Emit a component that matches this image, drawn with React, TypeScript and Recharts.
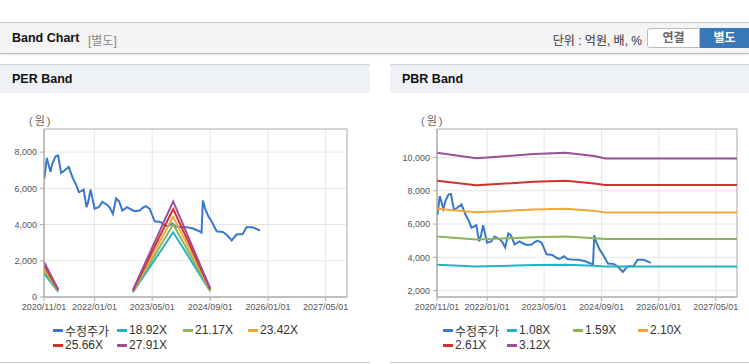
import React from "react";
import { LineChart, Line, XAxis, YAxis, CartesianGrid, ReferenceArea } from "recharts";

const FONT = '"Liberation Sans", Arial, "Noto Sans CJK KR", sans-serif';

// x axis
const xTickLabels = ["2020/11/01", "2022/01/01", "2023/05/01", "2024/09/01", "2026/01/01", "2027/05/01"];
const xStart = "2020-11-01";
const xEnd = "2027-10-28";

// 수정주가 (shared by both charts)
const priceDates = [
  "2020-11-04", "2020-11-25", "2020-12-25", "2021-01-10", "2021-02-06", "2021-02-28", "2021-03-25", "2021-04-22",
  "2021-05-28", "2021-07-01", "2021-07-28", "2021-08-22", "2021-09-10", "2021-10-01", "2021-10-25", "2021-11-10",
  "2021-11-28", "2021-12-13", "2022-01-01", "2022-02-05", "2022-03-07", "2022-04-03", "2022-04-22", "2022-05-13",
  "2022-06-04", "2022-07-01", "2022-07-25", "2022-08-13", "2022-08-22", "2022-10-01", "2022-11-06", "2022-12-04",
  "2023-01-16", "2023-02-10", "2023-03-07", "2023-04-10", "2023-05-22", "2023-07-10", "2023-08-16", "2023-09-10",
  "2023-10-16", "2023-11-16", "2023-12-20", "2024-02-16", "2024-04-10", "2024-06-01", "2024-06-20", "2024-07-01",
  "2024-07-20", "2024-08-16", "2024-09-12", "2024-10-25", "2024-12-16", "2025-01-22", "2025-03-01", "2025-04-10",
  "2025-06-01", "2025-07-04", "2025-08-25", "2025-10-25",
];
const priceValues = [
  6540, 7680, 6910, 7350, 7770, 7810, 6850, 6980,
  7180, 6575, 6210, 5785, 5840, 5930, 4960, 5290,
  5930, 5470, 4880, 4960, 5250, 5140, 5070, 4880,
  4590, 5440, 5290, 4960, 4770, 4960, 4830, 4740,
  4770, 4920, 5010, 4880, 4180, 4140, 3960, 3900,
  4060, 3900, 3870, 3850, 3780, 3630, 3550, 5330,
  4880, 4460, 4180, 3630, 3590, 3410, 3120, 3450,
  3480, 3850, 3850, 3670,
];

// PER band
const perBandDates = ["2020-11-01", "2021-03-01", "2022-01-01", "2022-11-20", "2023-10-25", "2024-09-01"];
const per1892 = [1310, 284, null, 265, 3576, 322];
const per2117 = [1465, 318, null, 296, 4001, 360];
const per2342 = [1620, 351, null, 328, 4426, 398];
const per2566 = [1775, 385, null, 359, 4850, 436];
const per2791 = [1930, 419, null, 391, 5275, 474];
const perYTicks = [0, 2000, 4000, 6000, 8000];
const perYDomain = [0, 9274];

// PBR band
const pbrBandDates = ["2020-11-01", "2021-10-01", "2022-05-01", "2023-02-01", "2023-11-01", "2024-07-01", "2024-10-01", "2027-10-28"];
const pbr108 = [3560, 3447, 3482, 3532, 3560, 3491, 3445, 3445];
const pbr159 = [5244, 5076, 5127, 5203, 5244, 5142, 5100, 5100];
const pbr210 = [6926, 6703, 6771, 6872, 6926, 6791, 6700, 6700];
const pbr261 = [8608, 8332, 8415, 8541, 8608, 8440, 8350, 8350];
const pbr312 = [10290, 9960, 10060, 10210, 10290, 10090, 9940, 9940];
const pbrYTicks = [2000, 4000, 6000, 8000, 10000];
const pbrYDomain = [1614, 11713];

const colors = ["#3a78c9", "#22b3c4", "#8bb55a", "#f1a83a", "#d1322b", "#9a4f9b"];

const ts = (d: string) => Date.parse(d);
const rows = (dates: string[], values: (number | null)[]) => dates.map((d, i) => ({ t: ts(d), v: values[i] }));
const xTicks = xTickLabels.map((l) => ts(l.replace(/\//g, "-")));
const fmtX = (v: number) => xTickLabels[xTicks.indexOf(v)] ?? "";
const fmtY = (v: number) => v.toLocaleString("en-US");

type Series = { name: string; data: { t: number; v: number | null }[] };

const perSeries: Series[] = [
  { name: "수정주가", data: rows(priceDates, priceValues) },
  { name: "18.92X", data: rows(perBandDates, per1892) },
  { name: "21.17X", data: rows(perBandDates, per2117) },
  { name: "23.42X", data: rows(perBandDates, per2342) },
  { name: "25.66X", data: rows(perBandDates, per2566) },
  { name: "27.91X", data: rows(perBandDates, per2791) },
];

const pbrSeries: Series[] = [
  { name: "수정주가", data: rows(priceDates, priceValues) },
  { name: "1.08X", data: rows(pbrBandDates, pbr108) },
  { name: "1.59X", data: rows(pbrBandDates, pbr159) },
  { name: "2.10X", data: rows(pbrBandDates, pbr210) },
  { name: "2.61X", data: rows(pbrBandDates, pbr261) },
  { name: "3.12X", data: rows(pbrBandDates, pbr312) },
];

const tickStyle = { fontSize: 9, fill: "#555", fontFamily: FONT };

function BandChart({ series, yDomain, yTicks, yWidth, width, rightGap }: {
  series: Series[]; yDomain: number[]; yTicks: number[]; yWidth: number; width: number; rightGap: number;
}) {
  const x0 = ts(xStart);
  const x1 = ts(xEnd);
  return (
    <LineChart width={width} height={225} margin={{ top: 28, right: rightGap, bottom: 0, left: 0 }}>
      <CartesianGrid stroke="#e6e6e6" />
      <XAxis
        dataKey="t"
        type="number"
        domain={[x0, x1]}
        ticks={xTicks}
        tickFormatter={fmtX}
        allowDataOverflow
        height={29}
        tick={tickStyle}
        tickSize={4}
        tickMargin={3}
        stroke="#aaa"
        interval={0}
      />
      <YAxis
        type="number"
        domain={yDomain}
        ticks={yTicks}
        tickFormatter={fmtY}
        allowDataOverflow
        width={yWidth}
        tick={tickStyle}
        tickSize={4}
        tickMargin={3}
        stroke="#aaa"
        interval={0}
      />
      <ReferenceArea x1={x0} x2={x1} y1={yDomain[0]} y2={yDomain[1]} fill="none" stroke="#b4b4b4" ifOverflow="visible" />
      {series.map((s, i) => (
        <Line
          key={s.name}
          data={s.data}
          dataKey="v"
          name={s.name}
          type="linear"
          stroke={colors[i]}
          strokeWidth={2}
          dot={false}
          activeDot={false}
          isAnimationActive={false}
        />
      ))}
    </LineChart>
  );
}

const legendCols = [53, 117, 183, 248];

function LegendGrid({ series }: { series: Series[] }) {
  return (
    <>
      {series.map((s, i) => (
        <div
          key={s.name}
          style={{
            position: "absolute",
            left: legendCols[i % 4],
            top: i < 4 ? 321 : 336,
            height: 16,
            display: "flex",
            alignItems: "center",
            fontSize: 12,
            color: "#333",
            whiteSpace: "nowrap",
          }}
        >
          <span style={{ display: "inline-block", width: 10, height: 3, background: colors[i], marginRight: 2 }} />
          {s.name}
        </div>
      ))}
    </>
  );
}

function Panel({ left, width, title, children }: { left: number; width: number; title: string; children: React.ReactNode }) {
  return (
    <div
      style={{
        position: "absolute",
        left,
        top: 64,
        width,
        height: 299,
        borderTop: "1px solid #d6d6d6",
        borderBottom: "1px solid #cfcfcf",
        boxSizing: "border-box",
      }}
    >
      <div
        style={{
          position: "absolute",
          left: 0,
          top: 0,
          width,
          height: 28,
          background: "#eef2f7",
          fontWeight: "bold",
          fontSize: 12.5,
          color: "#111",
          lineHeight: "29px",
          paddingLeft: 12,
          boxSizing: "border-box",
        }}
      >
        {title}
      </div>
      <div style={{ position: "absolute", left: 0, top: -64, width, height: 364 }}>{children}</div>
    </div>
  );
}

export default function App() {
  return (
    <div
      style={{
        position: "absolute",
        left: 0,
        top: 0,
        width: 749,
        height: 364,
        background: "#fff",
        overflow: "hidden",
        fontFamily: FONT,
      }}
    >
      {/* header */}
      <div
        style={{
          position: "absolute",
          left: 0,
          top: 22,
          width: 749,
          height: 32,
          background: "#f4f4f4",
          borderTop: "1px solid #c4c4c4",
          borderBottom: "1px solid #bdbdbd",
          boxShadow: "0 1px 2px rgba(0,0,0,0.12)",
          boxSizing: "border-box",
        }}
      >
        <span style={{ position: "absolute", left: 12, top: 8, fontSize: 12.5, fontWeight: "bold", color: "#111" }}>Band Chart</span>
        <span style={{ position: "absolute", left: 88, top: 8, fontSize: 12, color: "#888" }}>[별도]</span>
        <span style={{ position: "absolute", right: 107, top: 8, fontSize: 12, color: "#333" }}>단위 : 억원, 배, %</span>
        <div
          style={{
            position: "absolute",
            left: 647,
            top: 5,
            width: 53,
            height: 20,
            background: "#fff",
            border: "1px solid #bbb",
            borderRadius: "3px 0 0 3px",
            boxSizing: "border-box",
            fontSize: 12,
            fontWeight: "bold",
            color: "#666",
            textAlign: "center",
            lineHeight: "18px",
          }}
        >
          연결
        </div>
        <div
          style={{
            position: "absolute",
            left: 700,
            top: 5,
            width: 49,
            height: 20,
            background: "#3a78b9",
            fontSize: 12,
            fontWeight: "bold",
            color: "#fff",
            textAlign: "center",
            lineHeight: "20px",
          }}
        >
          별도
        </div>
      </div>

      <Panel left={0} width={370} title="PER Band">
        <div style={{ position: "absolute", left: 29, top: 111, fontSize: 11, color: "#666", letterSpacing: 2 }}>(원)</div>
        <div style={{ position: "absolute", left: 0, top: 100 }}>
          <BandChart series={perSeries} yDomain={perYDomain} yTicks={perYTicks} yWidth={44} width={370} rightGap={23} />
        </div>
        <LegendGrid series={perSeries} />
      </Panel>

      <Panel left={390} width={359} title="PBR Band">
        <div style={{ position: "absolute", left: 31, top: 111, fontSize: 11, color: "#666", letterSpacing: 2 }}>(원)</div>
        <div style={{ position: "absolute", left: 0, top: 100 }}>
          <BandChart series={pbrSeries} yDomain={pbrYDomain} yTicks={pbrYTicks} yWidth={47} width={359} rightGap={12} />
        </div>
        <LegendGrid series={pbrSeries} />
      </Panel>
    </div>
  );
}
